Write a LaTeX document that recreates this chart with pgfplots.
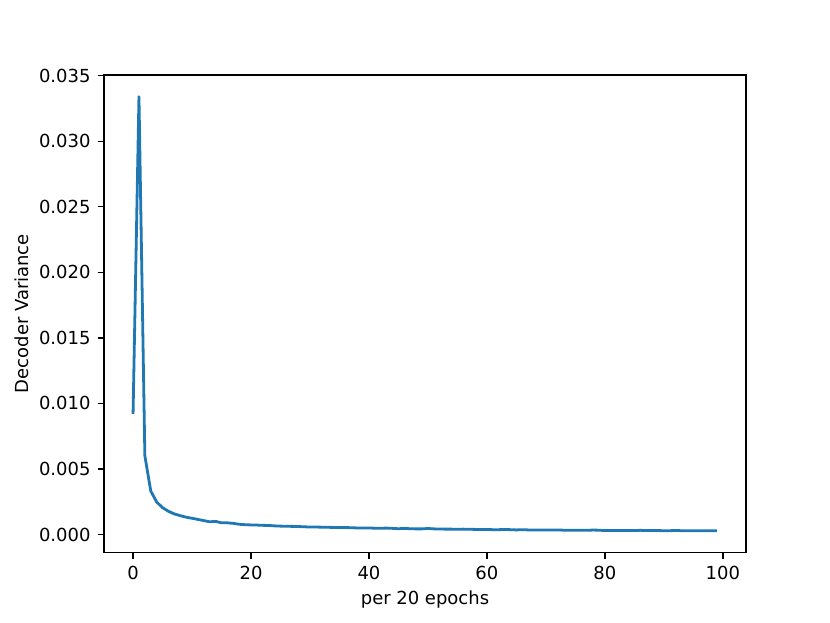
\documentclass[border=0pt]{standalone}
\usepackage{fontspec}
\setmainfont{DejaVu Sans}
\usepackage{pgfplots}
\pgfplotsset{compat=1.18}
\definecolor{mplblue}{HTML}{1F77B4}

\pgfplotstableread{
k v
0 0.0092
1 0.0334
2 0.0060
3 0.00332
4 0.00248
5 0.00205
6 0.00177
7 0.00157
8 0.00144
9 0.00132
10 0.00124
11 0.00115
12 0.00106
13 0.00097
14 0.00100
15 0.00089
16 0.00089
17 0.00085
18 0.00078
19 0.00075
20 0.00073
21 0.00072
22 0.00070
23 0.00069
24 0.00066
25 0.00064
26 0.00063
27 0.00062
28 0.00061
29 0.00059
30 0.00057
31 0.00057
32 0.00056
33 0.00055
34 0.00054
35 0.00054
36 0.00053
37 0.00052
38 0.00050
39 0.00049
40 0.00050
41 0.00048
42 0.00048
43 0.00049
44 0.00047
45 0.00044
46 0.00047
47 0.00044
48 0.00043
49 0.00043
50 0.00046
51 0.00043
52 0.00042
53 0.00041
54 0.00041
55 0.00040
56 0.00041
57 0.00040
58 0.00039
59 0.00038
60 0.00038
61 0.00037
62 0.00037
63 0.00038
64 0.00037
65 0.00035
66 0.00037
67 0.00035
68 0.00035
69 0.00034
70 0.00034
71 0.00034
72 0.00035
73 0.00033
74 0.00033
75 0.00032
76 0.00033
77 0.00032
78 0.00034
79 0.00033
80 0.00030
81 0.00031
82 0.00030
83 0.00031
84 0.00030
85 0.00030
86 0.00032
87 0.00030
88 0.00030
89 0.00030
90 0.00029
91 0.00029
92 0.00031
93 0.00029
94 0.00028
95 0.00028
96 0.00029
97 0.00029
98 0.00028
99 0.00029
}\variance

\begin{document}
\begin{tikzpicture}[font=\fontsize{9}{11}\selectfont]
	\path[use as bounding box] (-52pt,-35pt) rectangle (363.5pt,276.5pt);
	\begin{axis}[
		at={(0,0)}, anchor=south west,
		scale only axis,
		width=321.5pt, height=239pt,
		xmin=-4.95, xmax=103.95,
		ymin=-0.00136, ymax=0.03506,
		xtick={0,20,...,100},
		ytick={0,0.005,...,0.035},
		scaled y ticks=false,
		yticklabel style={/pgf/number format/.cd, fixed, fixed zerofill, precision=3},
		/pgf/number format/assume math mode=true,
		tick align=outside,
		xtick pos=bottom, ytick pos=left,
		major tick length=3.15pt,
		every tick/.style={black, line width=0.7pt},
		axis line style={line width=0.7pt},
		xlabel={per 20 epochs},
		ylabel={Decoder Variance},
		every axis x label/.style={at={(axis description cs:0.5,0)}, anchor=center, yshift=-23.5pt},
		every axis y label/.style={at={(axis description cs:0,0.5)}, rotate=90, anchor=center, yshift=41pt},
	]
		\addplot[mplblue, line width=1.4pt, line join=round] table[x=k, y=v] {\variance};
	\end{axis}
\end{tikzpicture}
\end{document}
